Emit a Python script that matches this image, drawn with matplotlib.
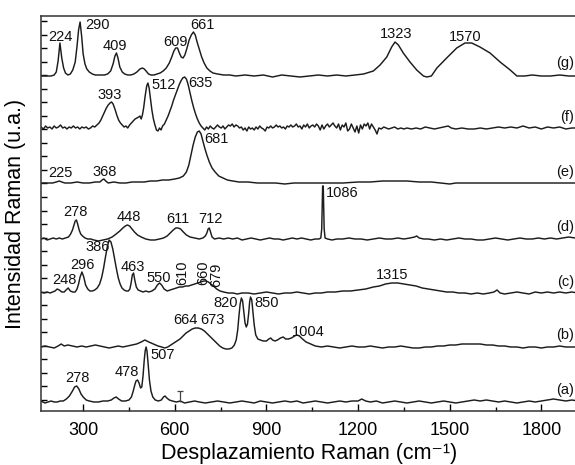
import matplotlib.pyplot as plt
from matplotlib.ticker import MultipleLocator, FixedLocator, NullFormatter

plt.rcParams['font.family'] = ['Liberation Sans', 'DejaVu Sans']

# Raman spectra, (wavenumber, intensity above own baseline)
spec_a = [(162, 1), (175, -1), (185, 0), (195, 1), (205, 0), (215, 0), (225, 1), (235, 1), (245, 3), (255, 6),
          (265, 11), (272, 15), (279, 16), (286, 13), (293, 8), (300, 5), (310, 2), (320, 1), (335, 0), (350, 0),
          (365, 1), (380, 1), (392, 2), (401, 4), (408, 5), (416, 3), (426, 1), (438, 1), (450, 2), (458, 5),
          (464, 11), (469, 17), (473, 21), (478, 22), (483, 19), (488, 14), (492, 15), (496, 26), (500, 42),
          (503, 51), (506, 55), (509, 51), (513, 37), (517, 22), (522, 11), (528, 5), (536, 2), (546, 1),
          (556, 2), (563, 5), (568, 6), (574, 4), (582, 2), (592, 1), (605, 0), (618, 1), (632, -1), (648, 0),
          (665, 1), (680, 0), (700, -1), (720, 0), (740, 1), (760, 0), (780, -1), (800, 0), (820, 1), (840, 0),
          (860, -1), (880, 1), (900, 0), (920, -1), (940, 0), (960, 1), (980, 0), (1000, 1), (1020, -1),
          (1040, 0), (1060, 1), (1080, 0), (1100, -1), (1120, 0), (1140, 1), (1160, 0), (1180, 1), (1200, 1),
          (1212, 3), (1225, 1), (1240, 0), (1260, 1), (1280, -1), (1300, 0), (1320, 1), (1340, 0), (1360, -1),
          (1380, 0), (1400, 1), (1420, 0), (1440, -1), (1460, 0), (1480, 1), (1500, 0), (1520, -1), (1540, 0),
          (1560, 1), (1580, 2), (1600, 1), (1620, 2), (1640, 1), (1660, 0), (1680, 1), (1700, 0), (1720, -1),
          (1740, 0), (1760, 1), (1780, 0), (1800, 1), (1820, 2), (1840, 3), (1860, 2), (1880, 1), (1900, 2),
          (1920, 1)]

spec_b = [(162, 0), (175, 1), (190, 0), (205, -1), (218, 1), (228, 3), (238, 1), (250, 2), (265, 1), (280, 0),
          (295, 1), (310, 0), (325, 1), (340, 2), (355, 1), (370, 0), (385, -1), (400, 0), (415, 1), (430, 0),
          (445, 1), (460, 2), (475, 3), (490, 5), (502, 7), (515, 5), (530, 3), (545, 1), (557, 0), (567, -1),
          (577, 0), (587, 2), (597, 4), (607, 6), (617, 8), (627, 11), (637, 14), (647, 16), (657, 18), (667, 19),
          (677, 19), (687, 18), (697, 16), (707, 13), (717, 10), (727, 7), (737, 4), (747, 1), (757, -1),
          (767, -2), (777, -2), (787, -1), (795, 2), (801, 7), (806, 17), (810, 31), (814, 43), (818, 49),
          (822, 46), (826, 35), (830, 24), (834, 20), (838, 23), (842, 34), (845, 45), (848, 50), (852, 47),
          (856, 35), (860, 22), (865, 12), (872, 8), (880, 7), (890, 6), (900, 6), (908, 8), (914, 9), (920, 7),
          (928, 6), (936, 7), (946, 9), (955, 10), (963, 8), (972, 8), (982, 9), (992, 11), (1000, 12),
          (1008, 11), (1018, 8), (1030, 5), (1045, 3), (1060, 1), (1080, 0), (1100, 1), (1120, 0), (1140, -1),
          (1160, 0), (1180, 1), (1200, 0), (1220, 0), (1240, 1), (1260, 0), (1280, -1), (1300, 0), (1320, 0),
          (1340, 1), (1360, 0), (1380, -1), (1400, -1), (1420, 0), (1440, 0), (1460, 1), (1480, 1), (1500, 2),
          (1520, 2), (1540, 3), (1560, 3), (1580, 3), (1600, 3), (1620, 2), (1640, 2), (1660, 1), (1680, 1),
          (1700, 0), (1720, 0), (1740, -1), (1760, 0), (1780, 0), (1800, -1), (1820, 0), (1840, 0), (1860, 1),
          (1880, 0), (1900, 0), (1920, 0)]

spec_c = [(162, 1), (172, 0), (182, 1), (192, 0), (200, 1), (208, 2), (215, 4), (222, 3), (230, 1), (238, 1),
          (244, 3), (251, 5), (258, 2), (266, 1), (274, 1), (280, 4), (285, 9), (290, 16), (296, 21), (302, 16),
          (308, 8), (315, 4), (322, 2), (330, 2), (338, 3), (346, 5), (354, 9), (361, 16), (367, 25), (373, 36),
          (379, 46), (385, 53), (391, 51), (397, 44), (403, 34), (409, 24), (415, 15), (421, 9), (427, 5),
          (434, 3), (441, 2), (448, 2), (453, 4), (457, 10), (461, 18), (465, 20), (469, 13), (474, 6), (480, 3),
          (488, 2), (496, 1), (505, 2), (515, 1), (525, 2), (535, 4), (543, 8), (550, 10), (557, 8), (565, 4),
          (575, 2), (585, 3), (595, 4), (605, 5), (615, 6), (625, 6), (635, 7), (645, 7), (655, 8), (665, 9),
          (675, 10), (685, 11), (695, 12), (702, 12), (710, 11), (718, 9), (727, 7), (737, 4), (748, 2),
          (760, 1), (775, 0), (790, 0), (805, -1), (820, 0), (840, 0), (860, -1), (880, 0), (900, 1), (920, 0),
          (940, -1), (960, 0), (980, 0), (1000, 1), (1020, 0), (1040, -1), (1060, 0), (1080, 0), (1100, 1),
          (1125, 1), (1150, 2), (1175, 2), (1200, 3), (1225, 4), (1250, 6), (1270, 7), (1290, 9), (1310, 10),
          (1330, 10), (1350, 9), (1370, 8), (1390, 7), (1410, 5), (1430, 4), (1450, 3), (1470, 2), (1490, 1),
          (1510, 1), (1530, 0), (1550, 0), (1570, -1), (1590, 0), (1610, -1), (1630, 0), (1645, 1), (1655, 3),
          (1665, 0), (1680, -1), (1700, 0), (1720, 1), (1740, 0), (1760, -1), (1780, 1), (1800, 0), (1820, 1),
          (1840, 0), (1860, 1), (1880, 0), (1900, 1), (1920, 0)]

spec_d = [(162, 0), (172, 1), (182, -1), (192, 0), (202, 1), (212, 0), (222, 1), (232, 0), (242, 1), (252, 2),
          (259, 5), (265, 9), (270, 14), (274, 18), (278, 19), (282, 15), (287, 9), (292, 5), (298, 3), (306, 1),
          (315, 0), (325, 0), (335, -1), (350, -2), (365, -1), (380, 0), (395, 2), (408, 5), (420, 8), (430, 11),
          (438, 13), (445, 14), (452, 13), (460, 10), (468, 7), (478, 4), (490, 2), (505, 0), (520, -1),
          (535, -1), (550, 0), (563, 1), (575, 3), (585, 6), (595, 9), (603, 11), (611, 11), (619, 10), (628, 7),
          (638, 4), (650, 2), (665, 1), (680, 0), (692, 1), (700, 3), (705, 6), (709, 10), (713, 11), (717, 7),
          (722, 2), (730, 0), (745, 1), (760, 0), (775, 1), (790, 0), (805, 1), (820, -1), (835, 0), (850, 1),
          (865, 0), (880, -1), (895, 0), (910, 1), (925, 0), (940, 0), (955, -1), (970, 0), (985, 1), (1000, 0),
          (1015, 1), (1030, 0), (1045, -1), (1060, 0), (1072, 0), (1078, 1), (1081, 10), (1083, 40), (1084, 53),
          (1086, 53), (1087, 40), (1089, 10), (1092, 1), (1100, 0), (1115, -1), (1130, 0), (1150, 0), (1170, 1),
          (1190, 0), (1210, 0), (1230, -1), (1250, 0), (1270, 1), (1290, 0), (1310, 0), (1330, 1), (1350, 0),
          (1370, 1), (1385, 2), (1392, 3), (1400, 1), (1415, 0), (1430, 0), (1450, -1), (1470, 0), (1490, -1),
          (1510, 0), (1530, 1), (1550, 0), (1570, 0), (1590, -1), (1610, -1), (1630, 0), (1650, 1), (1670, 0),
          (1690, -1), (1710, 0), (1730, 1), (1750, 0), (1770, 0), (1790, 1), (1810, 0), (1830, 1), (1850, 0),
          (1870, 1), (1890, 2), (1910, 1), (1920, 1)]

spec_e = [(162, 0), (180, 0), (200, 0), (212, 1), (222, 2), (230, 1), (240, 0), (260, 0), (280, 1), (300, 0),
          (320, 0), (340, 1), (355, 1), (362, 3), (368, 4), (374, 2), (382, 0), (400, 1), (420, 0), (440, 0),
          (460, 1), (480, 1), (500, 1), (520, 2), (540, 2), (560, 3), (580, 3), (600, 4), (615, 5), (628, 7),
          (638, 11), (646, 18), (653, 28), (660, 38), (667, 46), (674, 51), (680, 52), (686, 49), (692, 42),
          (698, 35), (705, 28), (713, 21), (722, 15), (732, 11), (744, 7), (758, 5), (772, 3), (790, 2),
          (810, 1), (840, 1), (870, 0), (900, 0), (930, 0), (960, -1), (990, 0), (1020, 0), (1050, 0),
          (1100, 0), (1150, 0), (1200, 1), (1240, 1), (1280, 2), (1320, 2), (1360, 2), (1400, 1), (1440, 1),
          (1470, 0), (1500, -1), (1520, 0), (1560, 0), (1600, 0), (1650, 0), (1700, 0), (1750, 0), (1800, 0),
          (1850, 0), (1920, 0)]

spec_f = [(162, 1), (170, -1), (177, 2), (184, 0), (191, 1), (198, -1), (205, 2), (212, 0), (219, 1), (226, 3),
          (233, 0), (240, 1), (247, -1), (254, 1), (261, 0), (268, 2), (275, 0), (282, 1), (289, -1), (296, 1),
          (303, 0), (310, 1), (317, -1), (324, 0), (331, 2), (338, 1), (345, 3), (352, 5), (358, 8), (364, 12),
          (370, 16), (376, 20), (382, 23), (388, 25), (393, 26), (398, 24), (404, 19), (410, 13), (416, 8),
          (422, 5), (428, 3), (434, 1), (440, 2), (446, 0), (452, 3), (458, 5), (464, 7), (470, 9), (476, 10),
          (482, 11), (486, 12), (490, 9), (494, 13), (498, 20), (503, 32), (508, 42), (512, 45), (516, 40),
          (520, 30), (525, 18), (530, 9), (535, 3), (540, -2), (545, -3), (550, 0), (555, -2), (560, 2),
          (566, 4), (572, 8), (578, 12), (584, 17), (590, 22), (596, 28), (602, 33), (608, 38), (614, 43),
          (620, 47), (626, 50), (632, 51), (638, 49), (644, 43), (650, 35), (656, 27), (662, 20), (668, 14),
          (674, 9), (680, 5), (686, 2), (692, 0), (698, -2), (704, 1), (710, -1), (716, 2), (722, 0), (728, -1),
          (734, 1), (740, 3), (746, 1), (752, 0), (758, 2), (764, -1), (770, 1), (776, 3), (782, 2), (788, 4),
          (794, 1), (800, 3), (806, 2), (812, 0), (818, 1), (824, -2), (830, 0), (836, -3), (842, 1), (848, -1),
          (854, 0), (860, -2), (866, 1), (872, -1), (878, 2), (884, 0), (890, -1), (896, -3), (902, 1), (908, 0),
          (914, 2), (920, 0), (926, 1), (932, 3), (938, 1), (944, 2), (950, 0), (956, 1), (962, -1), (968, 2),
          (974, 1), (980, 3), (986, 1), (992, 2), (998, 4), (1004, 1), (1010, 2), (1016, -1), (1022, 3),
          (1028, 1), (1034, 4), (1040, 0), (1046, 2), (1052, 3), (1058, 1), (1064, 4), (1070, 2), (1076, -2),
          (1082, 3), (1088, -1), (1094, 2), (1100, 4), (1106, 1), (1112, 3), (1118, 5), (1124, 2), (1130, 0),
          (1136, 4), (1142, -2), (1148, 3), (1154, 1), (1160, 5), (1166, -3), (1172, -1), (1178, 4), (1184, 0),
          (1190, -4), (1196, 2), (1202, -5), (1208, 3), (1214, -1), (1220, 4), (1226, 2), (1232, 5), (1238, -1),
          (1244, 4), (1250, 1), (1256, -2), (1262, -6), (1268, 0), (1276, -1), (1284, 1), (1292, 0), (1300, -1),
          (1310, 0), (1320, 1), (1330, -1), (1340, 0), (1350, -1), (1360, 0), (1375, -1), (1390, 0), (1405, -1),
          (1420, 1), (1435, 0), (1450, -1), (1465, 0), (1480, 1), (1495, 2), (1505, 0), (1520, -1), (1540, 0),
          (1560, -1), (1580, -1), (1600, 0), (1620, -1), (1640, 0), (1660, 1), (1680, 0), (1700, 1), (1720, 0),
          (1740, 2), (1760, 0), (1780, 1), (1800, -1), (1820, 1), (1840, 0), (1860, 1), (1880, -1), (1900, 0),
          (1920, 0)]

spec_g = [(162, 0), (175, 0), (185, 0), (195, 0), (205, 1), (212, 4), (218, 15), (224, 33), (230, 18), (236, 8),
          (242, 3), (250, 1), (258, 2), (266, 6), (274, 14), (280, 30), (285, 46), (290, 54), (295, 40),
          (300, 22), (306, 12), (312, 7), (320, 4), (330, 2), (340, 1), (350, 1), (360, 1), (370, 1), (380, 2),
          (390, 5), (398, 12), (404, 20), (409, 23), (414, 18), (420, 9), (428, 4), (436, 2), (446, 1), (456, 1),
          (466, 2), (476, 4), (486, 7), (494, 8), (500, 7), (506, 5), (514, 2), (522, 1), (532, 1), (542, 2),
          (552, 3), (562, 5), (572, 8), (582, 13), (590, 19), (597, 25), (603, 28), (609, 28), (615, 23),
          (621, 19), (627, 18), (633, 21), (640, 28), (647, 36), (654, 41), (661, 44), (667, 41), (673, 34),
          (680, 27), (688, 19), (696, 13), (705, 8), (715, 5), (725, 3), (740, 2), (760, 1), (780, 1), (800, 0),
          (830, 1), (860, 0), (890, 1), (920, -1), (950, 1), (980, 0), (1010, -1), (1040, 0), (1070, 1),
          (1100, 0), (1130, 1), (1160, 0), (1190, 1), (1218, 2), (1250, 5), (1272, 11), (1294, 19), (1310, 29),
          (1321, 34), (1332, 31), (1348, 23), (1370, 14), (1392, 6), (1414, 0), (1425, -1), (1440, 0),
          (1458, 8), (1490, 18), (1523, 28), (1550, 33), (1572, 33), (1599, 29), (1632, 23), (1665, 14),
          (1698, 6), (1720, 0), (1745, 0), (1770, 1), (1800, 0), (1830, 0), (1860, 1), (1890, 0), (1920, 0)]

spectra = [spec_a, spec_b, spec_c, spec_d, spec_e, spec_f, spec_g]
names = ['(a)', '(b)', '(c)', '(d)', '(e)', '(f)', '(g)']
offsets = [9, 64, 118, 172, 228, 283, 335]

# peak labels: text, x (cm-1), y (absolute), rotation
peak_labels = [
    ('224', 225, 374, 0), ('290', 346, 386, 0), ('409', 404, 365, 0), ('609', 601, 369, 0),
    ('661', 690, 386, 0), ('1323', 1325, 377, 0), ('1570', 1550, 374, 0),
    ('393', 388, 316, 0), ('512', 562, 326, 0), ('635', 683, 328, 0),
    ('681', 735, 272, 0), ('225', 225, 238, 0), ('368', 372, 239, 0),
    ('278', 274, 199, 0), ('448', 451, 194, 0), ('611', 611, 192, 0), ('712', 716, 192, 0),
    ('1086', 1148, 218, 0),
    ('386', 346, 164, 0), ('296', 297, 146, 0), ('248', 238, 131, 0), ('463', 464, 144, 0),
    ('550', 546, 133, 0), ('610', 624, 138, 90), ('660', 693, 138, 90), ('679', 735, 136, 90),
    ('1315', 1311, 136, 0),
    ('664', 634, 91, 0), ('673', 722, 91, 0), ('820', 768, 108, 0), ('850', 902, 108, 0),
    ('1004', 1036, 79, 0),
    ('278', 280, 33, 0), ('478', 444, 39, 0), ('507', 562, 56, 0),
]
name_y = [21, 76, 129, 184, 239, 294, 348]
stray_mark_x = [618]

fig = plt.figure(figsize=(5.75, 4.65), dpi=100)
ax = fig.add_axes([41 / 575, 54 / 465, 537 / 575, 395 / 465])

line_col = '#1c1c1c'
for spec, off in zip(spectra, offsets):
    xs = [p[0] for p in spec]
    ys = [p[1] + off for p in spec]
    ax.plot(xs, ys, color=line_col, lw=1.05)

ax.vlines(stray_mark_x, 9, 20, color='#444444', lw=0.9)
ax.plot(stray_mark_x, [20], marker='_', color='#444444', ms=4, mew=0.9)

for txt, x, y, rot in peak_labels:
    ax.text(x, y, txt, fontsize=10.5, ha='center', va='center', rotation=rot, color='#111111')

for nm, y in zip(names, name_y):
    ax.text(1907, y, nm, fontsize=10.5, ha='right', va='center', color='#111111')

ax.set_xlim(162, 1920)
ax.set_ylim(0, 395)

ax.xaxis.set_major_locator(MultipleLocator(300))
ax.xaxis.set_minor_locator(MultipleLocator(150))
ax.yaxis.set_major_locator(FixedLocator([11.2 + 13.52 * k for k in range(29)]))
ax.yaxis.set_major_formatter(NullFormatter())
ax.tick_params(axis='x', which='major', direction='in', length=5, width=1, labelsize=13, pad=8)
ax.tick_params(axis='x', which='minor', direction='in', length=3, width=1)
ax.tick_params(axis='y', which='major', direction='in', length=4, width=1)

for side in ['left', 'bottom', 'top']:
    ax.spines[side].set_linewidth(1.1)
    ax.spines[side].set_color('#333333')
ax.spines['right'].set_visible(False)

ax.set_xlabel('Desplazamiento Raman (cm\u207b\u00b9)', fontsize=15.5, labelpad=3)
ax.set_ylabel('Intensidad Raman (u.a.)', fontsize=15.5, labelpad=7)

fig.savefig('out.png', dpi=100)
